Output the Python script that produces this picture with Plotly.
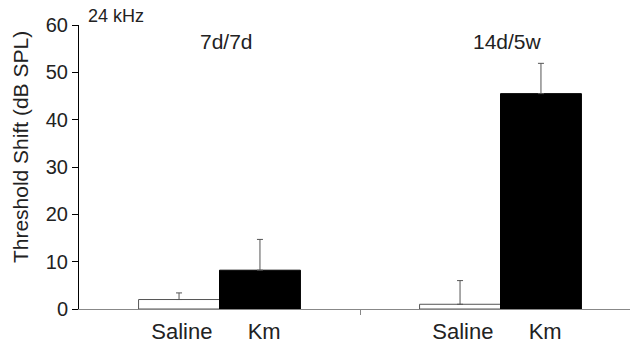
import plotly.graph_objects as go

groups = ["7d/7d", "14d/5w"]
treatments = ["Saline", "Km"]
saline = [2.0, 1.0]
km = [8.2, 45.5]
saline_err = [1.4, 5.0]
km_err = [6.5, 6.4]
y_ticks = [0, 10, 20, 30, 40, 50, 60]

centers = [i + 0.5 for i in range(len(groups))]
bw = 0.288
font = "Liberation Sans, Arial, sans-serif"
txt = "#222222"

fig = go.Figure()
fig.add_trace(go.Bar(
    x=centers, y=saline, width=bw, offset=-bw,
    marker=dict(color="white", line=dict(color="#555555", width=1)),
    error_y=dict(type="data", array=saline_err, arrayminus=[0] * len(saline),
                 symmetric=False, thickness=1, width=3, color="#555555"),
    showlegend=False))
fig.add_trace(go.Bar(
    x=centers, y=km, width=bw, offset=0,
    marker=dict(color="black", line=dict(color="black", width=1)),
    error_y=dict(type="data", array=km_err, arrayminus=[0] * len(km),
                 symmetric=False, thickness=1, width=3, color="#555555"),
    showlegend=False))

tickvals = []
ticktext = []
for c in centers:
    tickvals += [c - bw / 2 + 0.01, c + bw / 2 + 0.015]
    ticktext += treatments

x_max = 551 / 281
fig.update_layout(
    width=630, height=347,
    margin=dict(l=79, r=0, t=25, b=38),
    plot_bgcolor="white", paper_bgcolor="white",
    barmode="overlay",
    font=dict(family=font, color=txt),
    xaxis=dict(range=[0, x_max], tickvals=tickvals, ticktext=ticktext,
               ticks="", showgrid=False, zeroline=False, ticklabelstandoff=3,
               showline=True, linecolor="#888888", linewidth=1,
               tickfont=dict(size=22, color=txt), fixedrange=True),
    xaxis2=dict(range=[0, x_max], overlaying="x", side="bottom",
                tickvals=[1], ticktext=[""], ticks="outside", ticklen=5,
                tickcolor="#888888", showgrid=False, zeroline=False,
                showline=False, showticklabels=False),
    yaxis=dict(range=[0, 60], tickvals=y_ticks, ticks="outside", ticklen=6,
               tickcolor="black", showgrid=False, zeroline=False,
               showline=True, linecolor="black", linewidth=1,
               tickfont=dict(size=20, color=txt)),
)
fig.add_trace(go.Scatter(x=[1], y=[0], xaxis="x2", mode="markers",
                         marker=dict(opacity=0), showlegend=False, hoverinfo="skip"))

fig.add_annotation(text="Threshold Shift (dB SPL)", textangle=-90,
                   xref="paper", yref="paper", x=(20 - 79) / 551, y=0.57,
                   xanchor="center", yanchor="middle",
                   showarrow=False, font=dict(size=21, color=txt))
fig.add_annotation(text="24 kHz", xref="paper", yref="paper",
                   x=(86 - 79) / 551, y=1.0, yshift=9, xanchor="left",
                   yanchor="middle", showarrow=False, font=dict(size=18, color=txt))
for c, g in zip(centers, groups):
    fig.add_annotation(text=g, x=c, xref="x", yref="paper", y=1.0, yshift=-16,
                       xshift=7, yanchor="middle", showarrow=False,
                       font=dict(size=21, color=txt))

fig.write_html("out.html", config={"displayModeBar": False},
               post_script="document.body.style.margin='0';")
